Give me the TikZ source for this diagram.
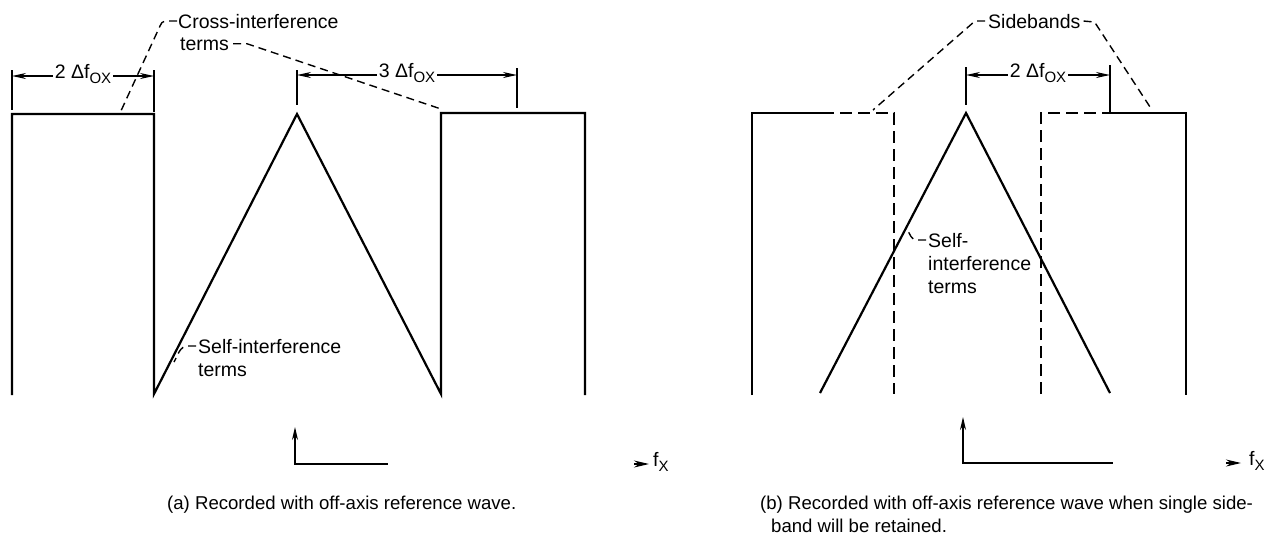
\documentclass[tikz,border=0pt]{standalone}
\usepackage{fontspec}
\setmainfont{Liberation Sans}
\usetikzlibrary{arrows.meta}
\tikzset{
  shapeline/.style={line width=2.2pt, line join=miter},
  dashshape/.style={line width=2.2pt, dash pattern=on 12pt off 6pt},
  dimline/.style={line width=1.3pt, {Stealth[length=14pt,width=6pt]}-{Stealth[length=14pt,width=6pt]}},
  dimtick/.style={line width=1.3pt},
  leader/.style={line width=1.4pt, dash pattern=on 8pt off 5pt},
  lbl/.style={font=\fontsize{19.5}{22}\selectfont, inner sep=0pt, anchor=base west},
  captext/.style={font=\fontsize{18.6}{23}\selectfont, inner sep=0pt, anchor=base west},
  dimlbl/.style={font=\fontsize{19.5}{22}\selectfont, fill=white, inner sep=2pt, yshift=2pt},
  axisline/.style={line width=1.4pt},
  axtip/.style={line width=1.2pt, -{Stealth[length=15pt,width=7pt]}}
}
\newcommand{\dfox}[1]{#1 Δf\raisebox{-5pt}{\fontsize{15}{15}\selectfont OX}}
\begin{document}
\begin{tikzpicture}[x=1pt,y=-1pt]
\useasboundingbox (0,0) rectangle (1280,539);

% ---------------- panel (a) ----------------
\coordinate (a1) at (12,395);
\coordinate (a2) at (12,114);
\coordinate (a3) at (154,114);
\coordinate (a4) at (154,394);
\coordinate (apA) at (297,114);
\coordinate (r1) at (441,394);
\coordinate (r2) at (441,113);
\coordinate (r3) at (585,113);
\coordinate (r4) at (585,395);
\draw[shapeline] (a1) -- (a2) -- (a3) -- (a4) -- (apA) -- (r1) -- (r2) -- (r3) -- (r4);

% dimension ticks
\coordinate (tA1t) at (12,70);  \coordinate (tA1b) at (12,110);
\coordinate (tA2t) at (154,70); \coordinate (tA2b) at (154,112);
\coordinate (tA3t) at (297,70); \coordinate (tA3b) at (297,105);
\coordinate (tA4t) at (517,68); \coordinate (tA4b) at (517,108);
\draw[dimtick] (tA1t) -- (tA1b);
\draw[dimtick] (tA2t) -- (tA2b);
\draw[dimtick] (tA3t) -- (tA3b);
\draw[dimtick] (tA4t) -- (tA4b);
\coordinate (dA1) at (12,76);  \coordinate (dA2) at (154,76);
\coordinate (dA3) at (297,75); \coordinate (dA4) at (517,75);

% labels
\node[lbl] (cross1) at (178,28) {Cross-interference};
\node[lbl] (cross2) at (180,50) {terms};
\node[lbl] (selfA1) at (198,353) {Self-interference};
\node[lbl] (selfA2) at (198,376) {terms};

\coordinate (ciA) at (120,113);
\coordinate (ciB) at (441,109);
\coordinate (siA) at (174,362);
\draw[leader] ([xshift=-1pt]cross1.west) -- ++(-12,0) to[out=180,in=65] ++(-5,5) -- (ciA);
\draw[leader] ([xshift=4pt]cross2.east) -- ++(14,0) -- (ciB);
\draw[leader] ([xshift=-2pt]selfA1.west) -- ++(-8,0) to[out=180,in=60] (siA);

\draw[dimline] (dA1) -- node[dimlbl] (dimA) {\dfox{2}} (dA2);
\draw[dimline] (dA3) -- node[dimlbl] (dimB) {\dfox{3}} (dA4);

% axes
\coordinate (upA) at (295,427);
\coordinate (orA) at (295,464);
\coordinate (hA) at (388,464);
\draw[axisline, {Stealth[length=13pt,width=6pt]}-] (upA) -- (orA) -- (hA);
\coordinate (axA1) at (634,464);
\coordinate (axA2) at (649,464);
\draw[axtip] (axA1) -- (axA2);
\node[lbl] (fxA) at (653,466) {f\raisebox{-5pt}{\fontsize{15}{15}\selectfont X}};

\node[captext] (capA) at (167,509) {(a) Recorded with off-axis reference wave.};

% ---------------- panel (b) ----------------
\coordinate (b1) at (752,395);
\coordinate (b2) at (752,113);
\coordinate (b3) at (822,113);
\coordinate (b4) at (894,113);
\coordinate (b5) at (894,394);
\draw[shapeline] (b1) -- (b2) -- (b3);
\draw[dashshape] (b3) -- (b4) -- (b5);

\coordinate (tb1) at (820,393);
\coordinate (apB) at (966,113);
\coordinate (tb2) at (1110,393);
\draw[shapeline] (tb1) -- (apB) -- (tb2);

\coordinate (c1) at (1041,394);
\coordinate (c2) at (1041,113);
\coordinate (c3) at (1110,113);
\coordinate (c4) at (1186,113);
\coordinate (c5) at (1186,395);
\draw[dashshape] (c1) -- (c2) -- (c3);
\draw[shapeline] (c3) -- (c4) -- (c5);

\coordinate (tB1t) at (966,67);  \coordinate (tB1b) at (966,105);
\coordinate (tB2t) at (1110,65);
\draw[dimtick] (tB1t) -- (tB1b);
\draw[dimtick] (tB2t) -- (c3);
\coordinate (dB1) at (966,75); \coordinate (dB2) at (1110,75);
\draw[dimline] (dB1) -- node[dimlbl] (dimC) {\dfox{2}} (dB2);

\node[lbl] (side) at (988,28) {Sidebands};
\coordinate (sbA) at (873,110);
\coordinate (sbB) at (1152,110);
\draw[leader] ([xshift=-3pt]side.west) -- ++(-10,0) -- (sbA);
\draw[leader] ([xshift=3pt]side.east) -- ++(11,1) -- (sbB);

\node[lbl] (selfB1) at (928,247) {Self-};
\node[lbl] (selfB2) at (928,270) {interference};
\node[lbl] (selfB3) at (928,293) {terms};
\coordinate (siB) at (907,229);
\draw[leader] ([xshift=-2pt]selfB1.west) -- ++(-9,0) to[out=180,in=-60] (siB);

\coordinate (upB) at (963,417);
\coordinate (orB) at (963,463);
\coordinate (hB) at (1113,463);
\draw[axisline, {Stealth[length=13pt,width=6pt]}-] (upB) -- (orB) -- (hB);
\coordinate (axB1) at (1226,463);
\coordinate (axB2) at (1241,463);
\draw[axtip] (axB1) -- (axB2);
\node[lbl] (fxB) at (1249,465) {f\raisebox{-5pt}{\fontsize{15}{15}\selectfont X}};

\node[captext] (capB1) at (760,509) {(b) Recorded with off-axis reference wave when single side-};
\node[captext] (capB2) at (771,532) {band will be retained.};
\end{tikzpicture}
\end{document}
